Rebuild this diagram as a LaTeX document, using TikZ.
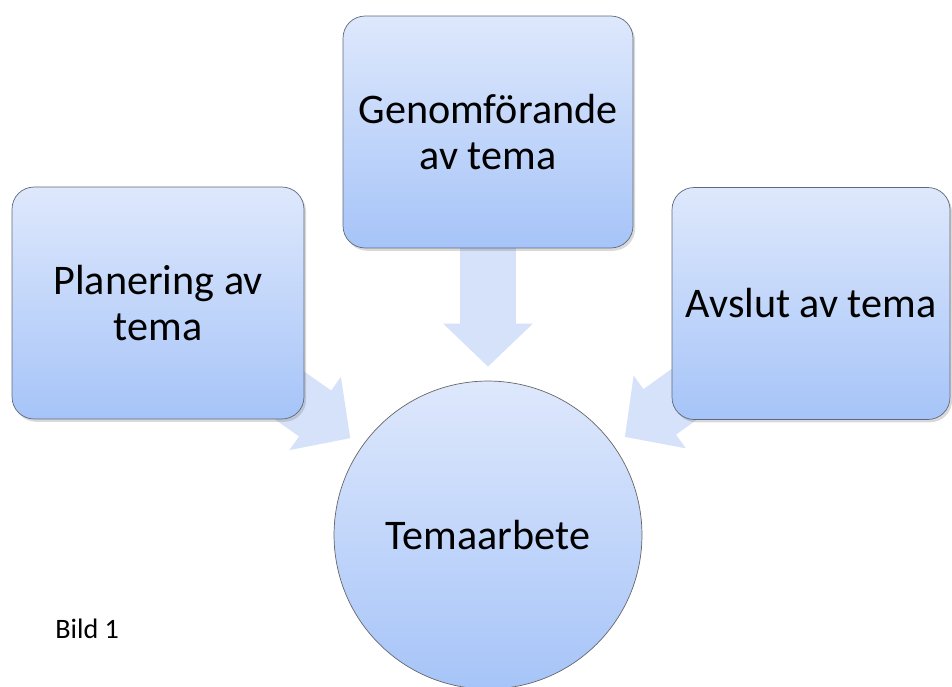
\documentclass[tikz,border=0pt]{standalone}
\usepackage{fontspec}
\setmainfont{Carlito}
\usetikzlibrary{arrows.meta, shadows, backgrounds}

\definecolor{boxtop}{RGB}{222,232,252}
\definecolor{boxbot}{RGB}{166,196,248}
\definecolor{edgegray}{RGB}{95,105,125}
\definecolor{arrowblue}{RGB}{213,226,250}

\begin{document}
\begin{tikzpicture}[x=0.02cm,y=-0.02cm,
  stage node/.style={rectangle,rounded corners=0.44cm,draw=edgegray,thin,
    top color=boxtop,bottom color=boxbot,minimum height=4.64cm,align=center,
    font=\fontsize{24}{25.8}\selectfont,
    drop shadow={opacity=0.3,shadow xshift=1.2pt,shadow yshift=-1.6pt}},
  main node/.style={circle,draw=black!60,thin,top color=boxtop,bottom color=boxbot,
    minimum size=6.16cm,font=\fontsize{24}{25.8}\selectfont},
  fat arrow/.style={draw=arrowblue,line width=1.12cm,
    -{Triangle[width=1.74cm,length=0.86cm]},shorten >=0.28cm}]
  \useasboundingbox (0,0) rectangle (952,686);
  \node[main node] (tema) at (488,535) {Temaarbete};
  \node[stage node, minimum width=5.84cm] (plan) at (158,303) {Planering av\\tema};
  \node[stage node, minimum width=5.8cm] (genom) at (488,132) {Genomförande\\av tema};
  \node[stage node, minimum width=5.56cm] (avslut) at (811,303.5) {Avslut av tema};
  \node[anchor=base west,inner sep=0pt,font=\fontsize{16}{18}\selectfont] (bild) at (55,638) {Bild 1};
  \begin{scope}[on background layer]
    \draw[fat arrow] (plan.center) -- (tema);
    \draw[fat arrow] (genom.center) -- (tema);
    \draw[fat arrow] (avslut.center) -- (tema);
  \end{scope}
\end{tikzpicture}
\end{document}
